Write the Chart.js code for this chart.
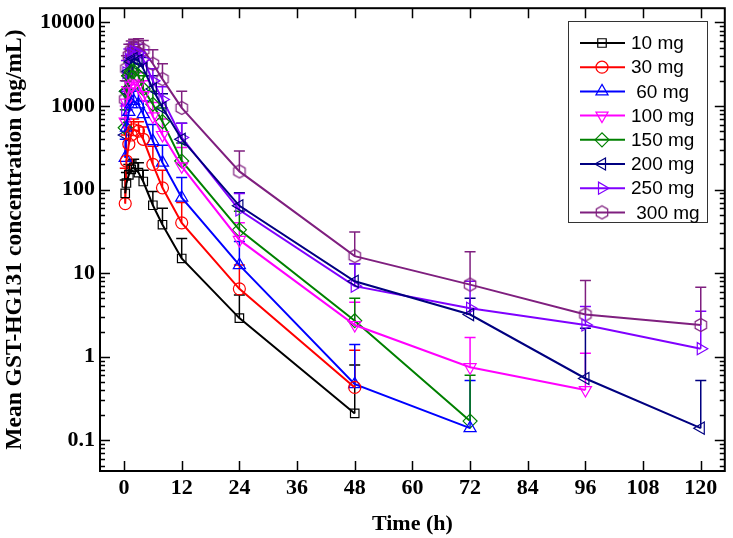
<!DOCTYPE html>
<html>
<head>
<meta charset="utf-8">
<script src="https://cdn.jsdelivr.net/npm/chart.js@4.4.1/dist/chart.umd.min.js"></script>
<style>
  html, body { margin: 0; padding: 0; background: #fff; }
  #wrap { width: 733px; height: 538px; }
</style>
</head>
<body>
<div id="wrap"><canvas id="chart" width="733" height="538"></canvas></div>
<script>
// sampling times (h)
const timePoints = [0.25, 0.5, 1, 1.5, 2, 3, 4, 6, 8, 12, 24, 48, 72, 96, 120];

const doseLabels = ['10 mg', '30 mg', ' 60 mg', '100 mg', '150 mg', '200 mg', '250 mg', ' 300 mg'];

// mean concentrations (ng/mL)
const mean10 = [90, 120, 150, 175, 185, 160, 125, 65, 38, 15, 2.9, 0.21];
const mean30 = [68, 220, 350, 450, 520, 500, 400, 200, 105, 40, 6.5, 0.43];
const mean60 = [240, 550, 850, 1050, 1150, 1050, 800, 380, 210, 80, 12.5, 0.47, 0.14];
const mean100 = [650, 1100, 1500, 1750, 1850, 1750, 1350, 750, 450, 190, 25, 2.4, 0.75, 0.4];
const mean150 = [550, 1500, 2300, 2600, 2600, 2300, 1600, 1050, 650, 220, 33, 2.7, 0.17];
const mean200 = [450, 1500, 2600, 3400, 3700, 3500, 2800, 1600, 950, 400, 64, 8, 3.2, 0.55, 0.14];
const mean250 = [900, 2500, 3600, 4200, 4500, 4300, 3600, 2000, 1200, 420, 57, 7, 3.8, 2.4, 1.25];
const mean300 = [1200, 2800, 4000, 4600, 5000, 5100, 4700, 3200, 2100, 950, 165, 16, 7.3, 3.2, 2.4];

// mean + SD (top of the error bar)
const upper10 = [130, 160, 200, 220, 230, 210, 170, 95, 60, 26, 5.5, 0.8];
const upper30 = [180, 450, 550, 650, 700, 650, 560, 330, 170, 70, 12.5, 1.2];
const upper60 = [400, 900, 1300, 1500, 1600, 1500, 1150, 600, 340, 140, 24, 1.4, 0.52];
const upper100 = [1000, 1700, 2200, 2500, 2600, 2500, 2000, 1100, 700, 320, 40, 4.5, 1.7, 1.1];
const upper150 = [900, 2300, 3300, 3600, 3600, 3200, 2300, 1500, 950, 360, 55, 5, 0.6];
const upper200 = [700, 2000, 3800, 4600, 5000, 4700, 3800, 2300, 1400, 620, 92, 13, 5, 2.2, 0.52];
const upper250 = [1500, 3500, 4800, 5500, 5800, 5500, 4700, 2800, 1700, 620, 90, 13, 8, 4, 3.5];
const upper300 = [2000, 4000, 5500, 6000, 6300, 6400, 6100, 4700, 3200, 1500, 290, 31, 18, 8.2, 6.8];

const xTickValues = [0, 12, 24, 36, 48, 60, 72, 84, 96, 108, 120];
const yMajorTicks = [0.1, 1, 10, 100, 1000, 10000];

const seriesMeans = [mean10, mean30, mean60, mean100, mean150, mean200, mean250, mean300];
const seriesUpper = [upper10, upper30, upper60, upper100, upper150, upper200, upper250, upper300];
const seriesColors = ['#000000', '#ff0000', '#0000ff', '#ff00ff', '#008000', '#000080', '#8000ff', '#7f1f7f'];

const yMin = 0.043;
const yMax = 14800;

function makeHexagon(color) {
    const size = 16;
    const c = document.createElement('canvas');
    c.width = size;
    c.height = size;
    const ctx = c.getContext('2d');
    ctx.strokeStyle = color;
    ctx.lineWidth = 1.2;
    ctx.beginPath();
    for (let k = 0; k < 6; k++) {
        const a = Math.PI / 2 + k * Math.PI / 3;
        const px = size / 2 + 6.6 * Math.cos(a);
        const py = size / 2 + 6.6 * Math.sin(a);
        if (k === 0) ctx.moveTo(px, py); else ctx.lineTo(px, py);
    }
    ctx.closePath();
    ctx.stroke();
    return c;
}

const seriesStyles = [
    { pointStyle: 'rect', rotation: 0, radius: 6 },
    { pointStyle: 'circle', rotation: 0, radius: 6 },
    { pointStyle: 'triangle', rotation: 0, radius: 7 },
    { pointStyle: 'triangle', rotation: 180, radius: 7 },
    { pointStyle: 'rectRot', rotation: 0, radius: 7 },
    { pointStyle: 'triangle', rotation: 270, radius: 7 },
    { pointStyle: 'triangle', rotation: 90, radius: 7 },
    { pointStyle: makeHexagon(seriesColors[7]), rotation: 0, radius: 7 },
];

// y tick positions: decades plus 2..9 minors
const yTickValues = [];
[0.01, 0.1, 1, 10, 100, 1000, 10000].forEach((d) => {
    for (let m = 1; m <= 9; m++) {
        const v = +(d * m).toPrecision(3);
        if (v >= yMin && v <= yMax) yTickValues.push(v);
    }
});

const datasets = seriesMeans.map((means, i) => ({
    label: doseLabels[i],
    data: means.map((v, j) => ({ x: timePoints[j], y: v })),
    upper: seriesUpper[i],
    borderColor: seriesColors[i],
    backgroundColor: 'rgba(0,0,0,0)',
    borderWidth: 2,
    pointStyle: seriesStyles[i].pointStyle,
    pointRotation: seriesStyles[i].rotation,
    pointRadius: seriesStyles[i].radius,
    pointBorderWidth: 1.2,
    pointBorderColor: seriesColors[i],
    pointBackgroundColor: 'rgba(0,0,0,0)',
    tension: 0,
}));

const serifBold = { family: '"Liberation Serif", "Times New Roman", serif', size: 22, weight: 'bold' };

const decorPlugin = {
    id: 'decor',
    beforeDatasetsDraw(chart) {
        const { ctx, chartArea: area } = chart;
        const xs = chart.scales.x;
        const ys = chart.scales.y;
        ctx.save();
        ctx.beginPath();
        ctx.rect(area.left, area.top, area.right - area.left, area.bottom - area.top);
        ctx.clip();
        chart.data.datasets.forEach((ds) => {
            ctx.strokeStyle = ds.borderColor;
            ctx.lineWidth = 1.5;
            ds.data.forEach((p, j) => {
                const up = ds.upper[j];
                if (up == null) return;
                const x = xs.getPixelForValue(p.x);
                const y1 = ys.getPixelForValue(p.y);
                const y2 = ys.getPixelForValue(up);
                ctx.beginPath();
                ctx.moveTo(x, y1);
                ctx.lineTo(x, y2);
                ctx.moveTo(x - 5.5, y2);
                ctx.lineTo(x + 5.5, y2);
                ctx.stroke();
            });
        });
        ctx.restore();
    },
    afterDraw(chart) {
        const { ctx, chartArea: area } = chart;
        const xs = chart.scales.x;
        const ys = chart.scales.y;
        ctx.save();
        ctx.strokeStyle = '#000';
        ctx.lineWidth = 2;
        ctx.strokeRect(area.left, area.top, area.right - area.left, area.bottom - area.top);

        ctx.lineWidth = 1.5;
        ctx.beginPath();
        xTickValues.forEach((v) => {
            const x = Math.round(xs.getPixelForValue(v)) + 0.5;
            ctx.moveTo(x, area.bottom);
            ctx.lineTo(x, area.bottom - 10);
            ctx.moveTo(x, area.top);
            ctx.lineTo(x, area.top + 10);
        });
        yTickValues.forEach((v) => {
            const y = Math.round(ys.getPixelForValue(v)) + 0.5;
            const len = yMajorTicks.includes(v) ? 10 : 5;
            ctx.moveTo(area.left, y);
            ctx.lineTo(area.left + len, y);
            ctx.moveTo(area.right, y);
            ctx.lineTo(area.right - len, y);
        });
        ctx.stroke();

        // legend box
        ctx.strokeStyle = '#333';
        ctx.lineWidth = 1;
        ctx.fillStyle = '#fff';
        ctx.fillRect(568, 21, 139, 201);
        ctx.strokeRect(568.5, 21.5, 139, 201);
        ctx.font = '19px "Liberation Sans", Arial, sans-serif';
        ctx.textBaseline = 'middle';
        chart.data.datasets.forEach((ds, i) => {
            const y = 43 + i * 24.2;
            ctx.strokeStyle = ds.borderColor;
            ctx.lineWidth = 2;
            ctx.beginPath();
            ctx.moveTo(580, y);
            ctx.lineTo(625, y);
            ctx.stroke();
            ctx.lineWidth = 1.2;
            ctx.fillStyle = 'rgba(0,0,0,0)';
            Chart.helpers.drawPoint(ctx, {
                pointStyle: ds.pointStyle,
                rotation: ds.pointRotation,
                radius: ds.pointRadius,
                borderWidth: 1.2,
            }, 602, y);
            ctx.fillStyle = '#000';
            ctx.fillText(ds.label, 631, y + 1);
        });
        ctx.restore();
    },
};

new Chart(document.getElementById('chart'), {
    type: 'line',
    data: { datasets },
    plugins: [decorPlugin],
    options: {
        responsive: false,
        animation: false,
        devicePixelRatio: 1,
        layout: { padding: { top: 2, right: 2, left: 0, bottom: 0 } },
        plugins: {
            legend: { display: false },
            tooltip: { enabled: false },
        },
        scales: {
            x: {
                type: 'linear',
                min: -5,
                max: 125,
                afterBuildTicks(scale) {
                    scale.ticks = xTickValues.map((v) => ({ value: v }));
                },
                afterFit(scale) {
                    scale.height = 67;
                    scale.paddingLeft = 0;
                    scale.paddingRight = 0;
                },
                grid: { display: false, drawTicks: false },
                border: { display: false },
                ticks: {
                    color: '#000',
                    font: serifBold,
                    padding: 4,
                    maxRotation: 0,
                    autoSkip: false,
                },
                title: {
                    display: true,
                    text: 'Time (h)',
                    color: '#000',
                    font: serifBold,
                    padding: { top: 0, bottom: 0 },
                },
            },
            y: {
                type: 'logarithmic',
                min: yMin,
                max: yMax,
                afterBuildTicks(scale) {
                    scale.ticks = yTickValues.map((v) => ({ value: v, major: yMajorTicks.includes(v) }));
                },
                afterFit(scale) {
                    scale.width = 100;
                    scale.paddingTop = 0;
                    scale.paddingBottom = 0;
                },
                grid: { display: false, drawTicks: false },
                border: { display: false },
                ticks: {
                    color: '#000',
                    font: serifBold,
                    padding: 5,
                    autoSkip: false,
                    callback(value) {
                        return yMajorTicks.includes(value) ? String(value) : '';
                    },
                },
                title: {
                    display: true,
                    text: 'Mean GST-HG131 concentration (ng/mL)',
                    color: '#000',
                    font: { family: '"Liberation Serif", "Times New Roman", serif', size: 23.5, weight: 'bold' },
                    padding: { top: 1, bottom: 0 },
                },
            },
        },
    },
});
</script>
</body>
</html>
